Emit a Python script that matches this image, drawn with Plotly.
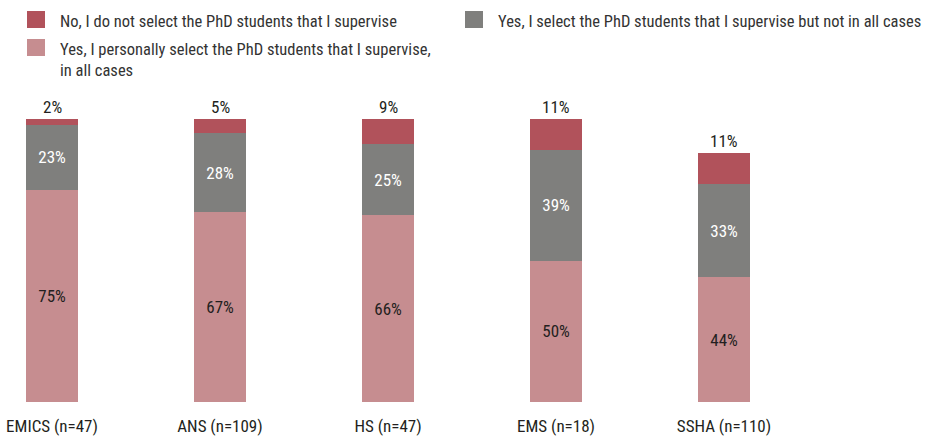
import plotly.graph_objects as go

# Survey: do supervisors select their own PhD students? (share of respondents, %)
categories = ["EMICS (n=47)", "ANS (n=109)", "HS (n=47)", "EMS (n=18)", "SSHA (n=110)"]
series_names = [
    "No, I do not select the PhD students that I supervise",
    "Yes, I select the PhD students that I supervise but not in all cases",
    "Yes, I personally select the PhD students that I supervise,<br>in all cases",
]
no_select = [2, 5, 9, 11, 11]
partly_select = [23, 28, 25, 39, 33]
always_select = [75, 67, 66, 50, 44]

RED = "#B1525B"
GRAY = "#7F7F7D"
PINK = "#C68D90"
TEXT = "#231F20"
FONT = "Roboto Condensed, Roboto, sans-serif"
FS = 17          # value and category labels
FS_LEG = 16.5    # legend labels

W, H = 926, 437
MT, MB = 119, 35
PLOT_H = H - MT - MB

x = list(range(len(categories)))
bar_w = 0.31

fig = go.Figure()
# stacked from bottom: always -> partly -> no
fig.add_bar(x=x, y=always_select, width=bar_w, marker=dict(color=PINK, line=dict(width=0)),
            text=[f"{v}%" for v in always_select], textposition="inside",
            insidetextanchor="middle", textangle=0,
            textfont=dict(color=TEXT, size=FS, family=FONT), name=series_names[2],
            hoverinfo="y")
fig.add_bar(x=x, y=partly_select, width=bar_w, marker=dict(color=GRAY, line=dict(width=0)),
            text=[f"{v}%" for v in partly_select], textposition="inside",
            insidetextanchor="middle", textangle=0,
            textfont=dict(color="white", size=FS, family=FONT), name=series_names[1],
            hoverinfo="y")
fig.add_bar(x=x, y=no_select, width=bar_w, marker=dict(color=RED, line=dict(width=0)),
            name=series_names[0], hoverinfo="y")

# value of the thin top segment sits above each bar
for i in x:
    total = always_select[i] + partly_select[i] + no_select[i]
    fig.add_annotation(x=i, y=total, text=f"{no_select[i]}%", showarrow=False,
                       yanchor="bottom", yshift=0,
                       font=dict(size=FS, color=TEXT, family=FONT))

# legend drawn as swatches + labels in two columns (pixel positions)
legend_items = [
    (series_names[0], RED, 27, 11),
    (series_names[1], GRAY, 465, 11),
    (series_names[2], PINK, 27, 39),
]
def py_to_paper(py):
    return 1 - (py - MT) / PLOT_H

for label, color, px, py in legend_items:
    fig.add_shape(type="rect", xref="paper", yref="paper",
                  x0=px / W, x1=(px + 18) / W,
                  y0=py_to_paper(py + 17), y1=py_to_paper(py),
                  fillcolor=color, line=dict(width=0))
    fig.add_annotation(xref="paper", yref="paper", x=(px + 31) / W,
                       y=py_to_paper(py - 1),
                       text=label, showarrow=False, xanchor="left", yanchor="top",
                       align="left", font=dict(size=FS_LEG, color="#333333", family=FONT))

fig.update_layout(
    barmode="stack",
    width=W, height=H,
    margin=dict(l=0, r=0, t=MT, b=MB),
    plot_bgcolor="white", paper_bgcolor="white",
    showlegend=False,
    font=dict(family=FONT, size=FS, color=TEXT),
    xaxis=dict(range=[-52 / 168, (W - 52) / 168], tickvals=x, ticktext=categories,
               showgrid=False, zeroline=False, showline=False, ticks="",
               ticklabelstandoff=12, tickfont=dict(size=FS, color=TEXT, family=FONT)),
    yaxis=dict(range=[0, 100], visible=False, showgrid=False, zeroline=False),
)

fig.write_html("out.html")
